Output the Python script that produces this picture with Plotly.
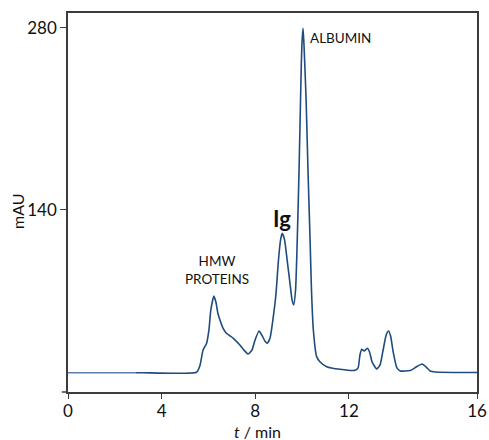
import plotly.graph_objects as go

# Chromatogram trace (time on the drawn axis scale, absorbance in mAU)
time_min = [0.0, 2.9, 3.2, 5.49, 5.63, 5.77, 5.92, 6.02, 6.10, 6.23, 6.32, 6.40, 6.49, 6.62, 6.77,
            7.06, 7.34, 7.51, 7.70, 7.86, 7.99, 8.16, 8.28, 8.41, 8.51, 8.63, 8.77, 8.88,
            8.99, 9.08, 9.15, 9.25, 9.36, 9.49, 9.57, 9.64, 9.72, 9.78, 9.87, 9.95, 9.99,
            10.04, 10.08, 10.17, 10.25, 10.34, 10.40, 10.48, 10.62, 10.77, 11.05, 11.62,
            12.26, 12.39, 12.47, 12.55, 12.65, 12.79, 12.88, 12.99, 13.19, 13.33, 13.46,
            13.59, 13.69, 13.78, 13.89, 14.05, 14.19, 14.62, 14.87, 15.12, 15.30, 15.47,
            15.69, 17.47]
absorbance = [14.8, 14.8, 14.8, 15.2, 20.0, 32.3, 37.5, 47.7, 63.0, 73.8, 69.0, 60.8, 55.4, 49.2, 45.2,
              41.3, 36.2, 32.3, 29.2, 32.3, 40.0, 46.9, 43.8, 39.2, 37.5, 41.5, 57.9, 74.6,
              101.5, 117.0, 122.0, 117.0, 101.5, 82.3, 70.8, 66.9, 78.5, 109.0, 171.0, 240.0, 267.0,
              279.8, 267.0, 225.0, 171.0, 117.0, 78.5, 47.7, 27.2, 23.1, 19.5, 17.5,
              16.7, 18.5, 28.5, 32.8, 31.5, 33.6, 30.8, 23.1, 17.7, 20.8, 32.3,
              43.8, 46.9, 43.1, 30.8, 18.5, 16.2, 16.5, 19.2, 21.5, 19.2, 16.2,
              15.4, 15.0]

x_tick_vals = [0, 4, 8, 12, 17.47]
x_tick_text = ["0", "4", "8", "12", "16"]
y_tick_vals = [140, 280]
y_tick_text = ["140", "280"]

labels = ["ALBUMIN", "HMW<br>PROTEINS", "<b>Ig</b>"]
label_x = [11.66, 6.36, 9.14]
label_y = [272, 93.8, 133.8]
label_size = [13.5, 13.5, 22]

FONT = "Lato, 'Open Sans', sans-serif"
AX = "#3c3c3c"

fig = go.Figure()
fig.add_trace(go.Scatter(x=time_min[:2], y=absorbance[:2], mode="lines",
                         line=dict(color="#5a80aa", width=1.6), hoverinfo="skip"))
fig.add_trace(go.Scatter(x=time_min[1:], y=absorbance[1:], mode="lines",
                         line=dict(color="#1f4c7c", width=1.6, shape="spline", smoothing=0.5)))

for t, xx, yy, s in zip(labels, label_x, label_y, label_size):
    fig.add_annotation(x=xx, y=yy, text=t, showarrow=False,
                       font=dict(family=FONT, size=s, color="#111111"),
                       xanchor="center", yanchor="middle")

fig.add_annotation(xref="paper", yref="paper", x=-0.122, y=0.478, text="mAU",
                   textangle=-90, showarrow=False, font=dict(family=FONT, size=16, color="#111111"),
                   xanchor="center", yanchor="middle")
fig.add_annotation(xref="paper", yref="paper", x=0.464, y=-0.105, text="<i>t</i> / min",
                   showarrow=False, font=dict(family=FONT, size=16, color="#111111"),
                   xanchor="center", yanchor="middle")

fig.add_shape(type="line", xref="paper", yref="paper", x0=-0.015, x1=0, y0=0, y1=0,
              line=dict(color=AX, width=1.5))

fig.update_layout(
    width=489, height=440,
    autosize=False,
    margin=dict(l=68, r=12, t=13, b=48, autoexpand=False),
    plot_bgcolor="white", paper_bgcolor="white",
    showlegend=False,
    font=dict(family=FONT, size=16, color="#111111"),
    xaxis=dict(range=[0, 17.47], tickvals=x_tick_vals, ticktext=x_tick_text,
               showline=True, linecolor=AX, linewidth=1.5, mirror=True,
               ticks="outside", ticklen=5, tickcolor=AX, tickwidth=1.3, automargin=False,
               ticklabelstandoff=-2,
               showgrid=False, zeroline=False, tickfont=dict(size=17)),
    yaxis=dict(range=[0, 291.5], tickvals=y_tick_vals, ticktext=y_tick_text,
               showline=True, linecolor=AX, linewidth=1.5, mirror=True,
               ticks="outside", ticklen=6, tickcolor=AX, tickwidth=1.3, automargin=False,
               showgrid=False, zeroline=False, tickfont=dict(size=17)),
)

fig.write_html("out.html",
               config={"displayModeBar": False, "responsive": False},
               post_script="document.body.style.margin='0';document.body.style.overflow='hidden';")
